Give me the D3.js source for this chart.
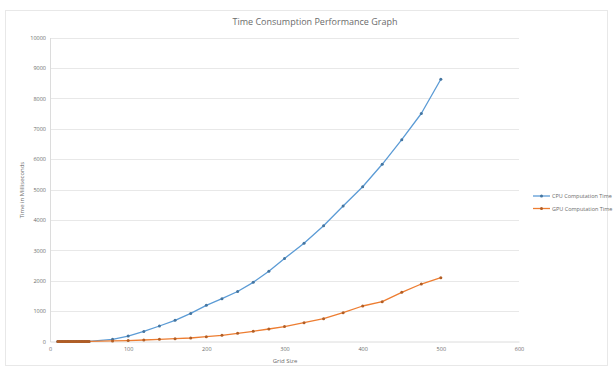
<!DOCTYPE html>
<html><head><meta charset="utf-8">
<script src="https://cdn.jsdelivr.net/npm/d3@7"></script>
<style>body{margin:0;background:#fff}svg{display:block}text{font-family:"Open Sans","Liberation Sans",Arial,sans-serif}</style>
</head><body><svg id="c" width="614" height="369"></svg>
<script>
const gridSize = [10,12,14,16,18,20,22,24,26,28,30,32,34,36,38,40,42,44,46,48,50,80,100,120,140,160,180,200,220,240,260,280,300,325,350,375,400,425,450,475,500];
const cpuTime = [0,0,0,0,0,0,0,0,0,0,1,1,1,1,1,2,2,2,2,3,3,72,180,330,510,695,925,1190,1410,1645,1945,2310,2730,3230,3809,4457,5092,5829,6638,7500,8625];
const gpuTime = [0,0,0,0,0,0,0,0,0,0,0,0,0,0,0,1,1,1,1,1,1,20,30,49,72,92,115,158,204,270,335,411,490,618,750,947,1168,1309,1618,1891,2099];
const yTicks = [0,1000,2000,3000,4000,5000,6000,7000,8000,9000,10000];
const xTicks = [0,100,200,300,400,500,600];
const seriesNames = ["CPU Computation Time","GPU Computation Time"];
const colors = ["#5B9BD5","#ED7D31"];

const svg = d3.select("#c");
const x = d3.scaleLinear().domain([0,600]).range([50,519]);
const y = d3.scaleLinear().domain([0,10000]).range([341.5,37.5]);
const txt = "#6b6b6b";

svg.append("rect").attr("x",5.5).attr("y",10.5).attr("width",602).attr("height",355)
  .attr("fill","#fff").attr("stroke","#e8e8e8");

svg.append("text").attr("x",315).attr("y",25).attr("text-anchor","middle")
  .attr("font-size",9).attr("fill",txt).text("Time Consumption Performance Graph");

// gridlines
svg.append("g").selectAll("line").data(yTicks.filter(d=>d>0)).join("line")
  .attr("x1",x(0)).attr("x2",x(600)).attr("y1",d=>Math.round(y(d))+0.5).attr("y2",d=>Math.round(y(d))+0.5)
  .attr("stroke","#e8e8e8").attr("stroke-width",1);

// y axis
const ya = svg.append("g").attr("transform",`translate(${x(0)},0)`)
  .call(d3.axisLeft(y).tickValues(yTicks).tickFormat(d3.format("d")).tickSize(0).tickPadding(4));
ya.select(".domain").attr("stroke","#dcdcdc");
ya.selectAll("text").attr("font-size",5.5).attr("fill",txt).attr("font-family","Open Sans, Liberation Sans, sans-serif");

// x axis
const xa = svg.append("g").attr("transform",`translate(0,${y(0)})`)
  .call(d3.axisBottom(x).tickValues(xTicks).tickFormat(d3.format("d")).tickSize(0).tickPadding(6));
xa.select(".domain").attr("stroke","#dcdcdc");
xa.selectAll("text").attr("font-size",5.5).attr("fill",txt).attr("font-family","Open Sans, Liberation Sans, sans-serif");

svg.append("text").attr("transform","translate(24,190) rotate(-90)").attr("text-anchor","middle")
  .attr("font-size",6).attr("fill",txt).text("Time in Milliseconds");
svg.append("text").attr("x",285).attr("y",363).attr("text-anchor","middle")
  .attr("font-size",6).attr("fill",txt).text("Grid Size");

const series = [cpuTime, gpuTime];
const line = d3.line().x(d=>x(d[0])).y(d=>y(d[1]));
series.forEach((vals,i)=>{
  const pts = gridSize.map((g,j)=>[g,vals[j]]);
  const g = svg.append("g");
  g.append("path").datum(pts).attr("d",line).attr("fill","none")
    .attr("stroke",colors[i]).attr("stroke-width",1.3).attr("stroke-linejoin","round");
  g.selectAll("circle").data(pts).join("circle")
    .attr("cx",d=>x(d[0])).attr("cy",d=>y(d[1])).attr("r",1.5)
    .attr("fill",d3.color(colors[i]).darker(0.8)).attr("stroke","none");
});

// legend
const lg = svg.append("g");
seriesNames.forEach((n,i)=>{
  const ly = 196 + i*12.5;
  lg.append("line").attr("x1",533).attr("x2",550).attr("y1",ly).attr("y2",ly)
    .attr("stroke",colors[i]).attr("stroke-width",1.3);
  lg.append("circle").attr("cx",541.5).attr("cy",ly).attr("r",1.5)
    .attr("fill",d3.color(colors[i]).darker(0.8));
  lg.append("text").attr("x",552).attr("y",ly+2).attr("font-size",5.5).attr("fill",txt).text(n);
});
</script></body></html>
